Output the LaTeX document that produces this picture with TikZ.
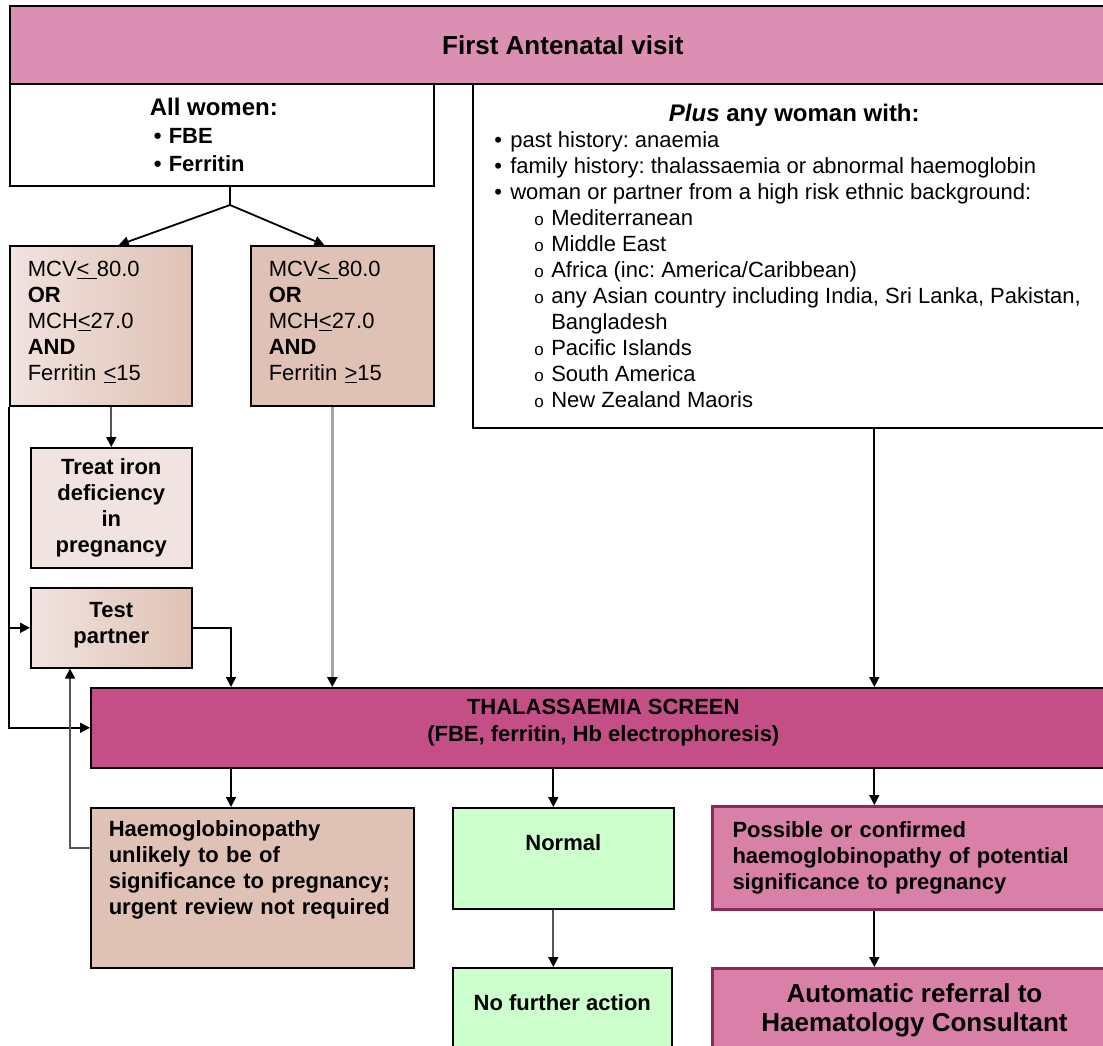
\documentclass[tikz,border=0pt]{standalone}
\usepackage{fontspec}
\setmainfont{Liberation Sans}
\usetikzlibrary{arrows.meta}
\frenchspacing

\definecolor{titlepink}{RGB}{219,143,179}
\definecolor{screenmag}{RGB}{196,79,135}
\definecolor{referpink}{RGB}{216,128,168}
\definecolor{referedge}{RGB}{140,40,90}
\definecolor{tan}{RGB}{223,194,181}
\definecolor{lighttan}{RGB}{241,227,223}
\definecolor{normalgreen}{RGB}{204,255,204}
\definecolor{linegrey}{RGB}{165,165,165}
\definecolor{darkgrey}{RGB}{85,85,85}

\newcommand{\bul}{\makebox[16pt][l]{\textbullet}}
\newcommand{\subbul}{\hspace*{40pt}\makebox[17pt][l]{\fontsize{17}{17}\selectfont o}}
\newcommand{\lowdepth}[1]{\rule[-#1]{0pt}{0pt}}

\begin{document}
\begin{tikzpicture}[x=1pt, y=-1pt,
  box/.style={draw=black, line width=1.6pt, rectangle, anchor=north west, inner sep=0pt},
  plain/.style={font=\fontsize{22}{26}\selectfont},
  heavy/.style={font=\bfseries\fontsize{22}{26}\selectfont},
  refer/.style={box, fill=referpink, draw=referedge, line width=3pt},
  arr/.style={-{Triangle[width=10pt,length=10pt,color=black]}, line width=1.8pt},
  greyarr/.style={arr, draw=linegrey, line width=2.5pt}]
  \useasboundingbox (0,0) rectangle (1103,1045);
  \clip (0,0) rectangle (1103,1045);

  \node[box, fill=titlepink, minimum width=1106pt, minimum height=78pt,
        font=\bfseries\fontsize{26}{30}\selectfont] (visit) at (9,5) {First Antenatal visit};
  \node[box, fill=white, minimum width=424pt, minimum height=102pt, heavy, align=left,
        font=\bfseries\fontsize{22}{28}\selectfont] (women) at (9,83)
    {\makebox[144pt][l]{\fontsize{24}{28}\selectfont All women:}\\
     \hspace*{4pt}\makebox[15pt][l]{\textbullet}FBE\\
     \hspace*{4pt}\makebox[15pt][l]{\textbullet}Ferritin};
  \node[box, fill=white, minimum width=643pt, minimum height=344pt, plain, align=left] (plus) at (472,83)
    {\makebox[600pt][c]{\bfseries\fontsize{24}{26}\selectfont\textit{Plus} any woman with:}\\
     \bul past history: anaemia\\
     \bul family history: thalassaemia or abnormal haemoglobin\\
     \bul woman or partner from a high risk ethnic background:\\
     \subbul Mediterranean\\
     \subbul Middle East\\
     \subbul Africa (inc: America/Caribbean)\\
     \subbul any Asian country including India, Sri Lanka, Pakistan,\\
     \hspace*{57pt}Bangladesh\\
     \subbul Pacific Islands\\
     \subbul South America\\
     \subbul New Zealand Maoris};

  % low and high ferritin
  \node[box, left color=lighttan, right color=tan, minimum width=182pt, minimum height=160pt,
        plain, text width=146pt, align=left] (mcvlow) at (9,245)
    {MCV\underline{<\ }80.0\\ \textbf{OR}\\ MCH\underline{<}27.0\\ \textbf{AND}\\ Ferritin \underline{<}15\lowdepth{10pt}};
  \node[box, fill=tan, minimum width=183pt, minimum height=160pt,
        plain, text width=147pt, align=left] (mcvhigh) at (250,245)
    {MCV\underline{<\ }80.0\\ \textbf{OR}\\ MCH\underline{<}27.0\\ \textbf{AND}\\ Ferritin \underline{>}15\lowdepth{10pt}};
  \node[box, fill=lighttan, minimum width=161pt, minimum height=120pt, heavy, align=center] (treat) at (30,447)
    {Treat iron\\deficiency\\in\\pregnancy};
  \node[box, left color=lighttan, right color=tan, minimum width=161pt, minimum height=80pt,
        heavy, align=center] (partner) at (30,587) {Test\\partner\lowdepth{10pt}};

  \node[box, fill=screenmag, minimum width=1025pt, minimum height=80pt, heavy, align=center,
        font=\bfseries\fontsize{22}{27}\selectfont] (screen) at (90,687)
    {THALASSAEMIA SCREEN\\(FBE, ferritin, Hb electrophoresis)\lowdepth{14pt}};

  % results
  \node[box, fill=tan, minimum width=323pt, minimum height=160pt, heavy, text width=287pt,
        align=left] (haemo) at (90,807)
    {Haemoglobinopathy\\unlikely to be of\\significance to pregnancy;\\urgent review not required\lowdepth{40pt}};
  \node[box, fill=normalgreen, minimum width=221pt, minimum height=101pt, heavy] (normal) at (452,807)
    {Normal\lowdepth{31pt}};
  \node[box, fill=normalgreen, minimum width=219pt, minimum height=101pt, heavy] (nofurther) at (452,967)
    {No further action\lowdepth{31pt}};
  \node[refer, minimum width=404pt, minimum height=103pt, heavy, text width=364pt, align=left] (possible) at (711,805)
    {Possible or confirmed\\haemoglobinopathy of potential\\significance to pregnancy};
  \node[refer, minimum width=404pt, minimum height=84pt, align=center,
        font=\bfseries\fontsize{26}{29}\selectfont] (referral) at (711,967)
    {Automatic referral to\\Haematology Consultant};

  % connectors
  \coordinate (split) at (230,205);
  \coordinate (rlane) at ([xshift=80pt]plus.south);
  \draw[line width=1.8pt] (split |- women.south) -- (split);
  \draw[arr] (split) -- ([xshift=18pt]mcvlow.north);
  \draw[arr] (split) -- ([xshift=-18pt]mcvhigh.north);
  \draw[arr, draw=darkgrey] (treat.north |- mcvlow.south) -- (treat.north);
  \draw[arr] (mcvlow.south west) |- (screen.west);
  \draw[arr] (mcvlow.south west |- partner.west) -- (partner.west);
  \draw[arr] (partner.east) -| ([xshift=141pt]screen.north west);
  \draw[greyarr] ([xshift=-10pt]mcvhigh.south) -- ([xshift=-10pt]mcvhigh.south |- screen.north);
  \draw[arr] (rlane) -- (rlane |- screen.north);
  \draw[arr] ([xshift=141pt]screen.south west) -- ([xshift=141pt]screen.south west |- haemo.north);
  \draw[arr] ([xshift=-10pt]normal.north |- screen.south) -- ([xshift=-10pt]normal.north);
  \draw[arr] (rlane |- screen.south) -- (rlane |- possible.north);
  \draw[arr, draw=darkgrey] ([xshift=-10pt]normal.south) -- ([xshift=-10pt]normal.south |- nofurther.north);
  \draw[arr] (rlane |- possible.south) -- (rlane |- referral.north);
  \draw[arr, draw=darkgrey] ([yshift=40pt]haemo.west) -| ([xshift=40pt]partner.south west);
\end{tikzpicture}
\end{document}
